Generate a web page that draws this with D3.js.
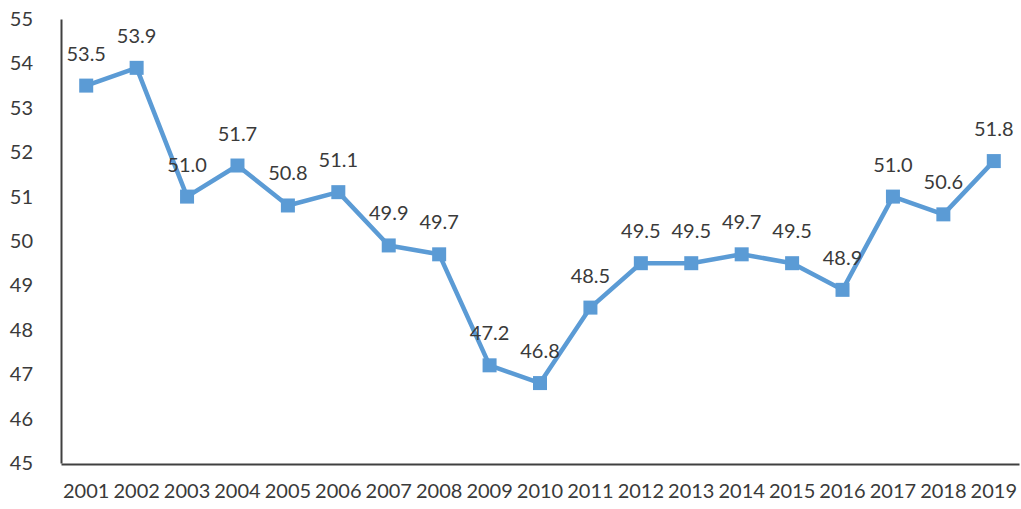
<!DOCTYPE html>
<html>
<head>
<meta charset="utf-8">
<script src="https://cdn.jsdelivr.net/npm/d3@7"></script>
<style>
  html, body { margin: 0; padding: 0; background: #fff; }
  text { font-family: Lato, "Open Sans", sans-serif; fill: #3a3a3a; }
</style>
</head>
<body>
<svg id="chart" width="1021" height="509"></svg>
<script>
// Annual index values, 2001–2019
const years = ["2001","2002","2003","2004","2005","2006","2007","2008","2009","2010",
               "2011","2012","2013","2014","2015","2016","2017","2018","2019"];
const values = [53.5, 53.9, 51.0, 51.7, 50.8, 51.1, 49.9, 49.7, 47.2, 46.8,
                48.5, 49.5, 49.5, 49.7, 49.5, 48.9, 51.0, 50.6, 51.8];
const yTicks = [45, 46, 47, 48, 49, 50, 51, 52, 53, 54, 55];

const svg = d3.select("#chart");
const plotLeft = 61, plotRight = 1019, plotTop = 19, plotBottom = 463;
const fontSize = "20px";

const x = d3.scaleBand().domain(years).range([plotLeft, plotRight]).paddingInner(0).paddingOuter(0);
const y = d3.scaleLinear().domain([45, 55]).range([plotBottom, plotTop]);
const cx = d => x(d) + x.bandwidth() / 2;

// y axis: labels only, plus the vertical line
const yAxis = svg.append("g")
  .attr("transform", `translate(${plotLeft},0)`)
  .call(d3.axisLeft(y).tickValues(yTicks).tickSize(0).tickPadding(28).tickFormat(d3.format("d")));
yAxis.select(".domain").attr("stroke", "#404040").attr("stroke-width", 2);
yAxis.selectAll("text").style("font-size", fontSize).attr("fill", "#3a3a3a");

// x axis: baseline and year labels
const xAxis = svg.append("g")
  .attr("transform", `translate(0,${plotBottom + 1})`)
  .call(d3.axisBottom(x).tickSize(0).tickPadding(20));
xAxis.select(".domain").attr("stroke", "#404040").attr("stroke-width", 2);
xAxis.selectAll("text").style("font-size", fontSize).attr("fill", "#3a3a3a");

const pts = years.map((yr, i) => ({ yr, v: values[i] }));

// series line
svg.append("path")
  .datum(pts)
  .attr("fill", "none")
  .attr("stroke", "#5B9BD5")
  .attr("stroke-width", 4.5)
  .attr("stroke-linejoin", "round")
  .attr("d", d3.line().x(d => cx(d.yr)).y(d => y(d.v)));

// square markers
const m = 14;
svg.append("g").selectAll("rect")
  .data(pts)
  .join("rect")
  .attr("x", d => cx(d.yr) - m / 2)
  .attr("y", d => y(d.v) - m / 2)
  .attr("width", m)
  .attr("height", m)
  .attr("fill", "#5B9BD5");

// value labels above each point
svg.append("g").selectAll("text")
  .data(pts)
  .join("text")
  .attr("x", d => cx(d.yr))
  .attr("y", d => y(d.v) - 25)
  .attr("text-anchor", "middle")
  .style("font-size", fontSize)
  .text(d => d3.format(".1f")(d.v));
</script>
</body>
</html>
